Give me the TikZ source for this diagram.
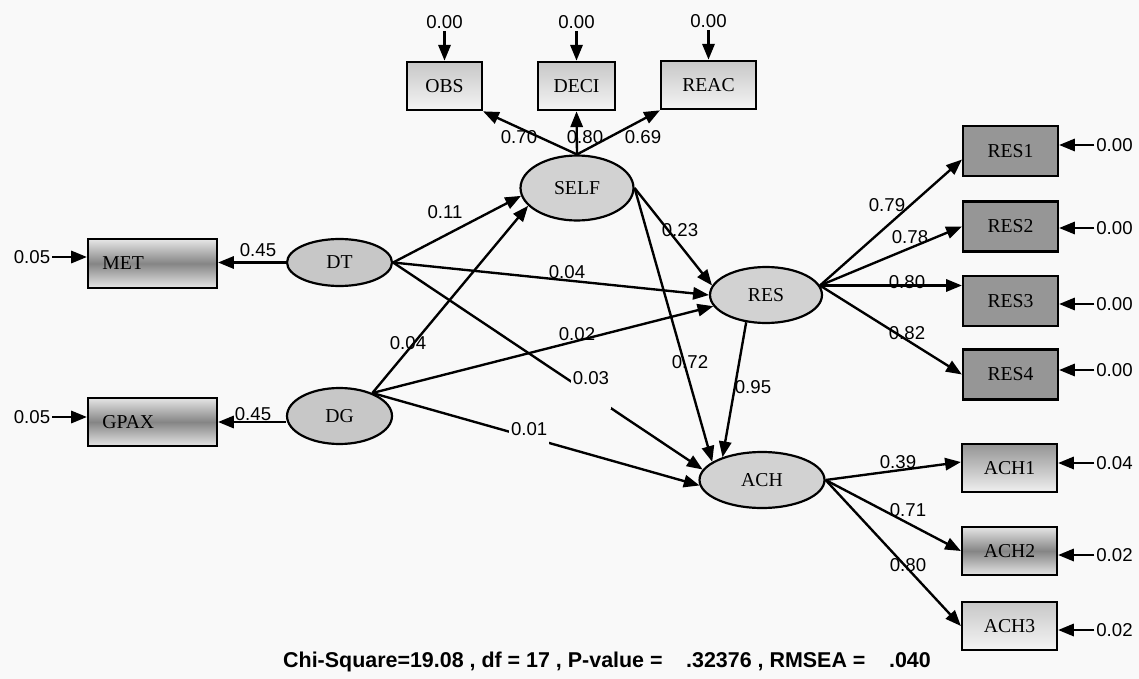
\documentclass[tikz,border=0pt]{standalone}
\usepackage{fontspec}
\setmainfont{Liberation Serif}
\setsansfont{Liberation Sans}
\usepackage{xcolor}
\usetikzlibrary{positioning,arrows.meta,shapes.geometric}
\definecolor{bgpaper}{RGB}{249,249,249}
\definecolor{latfill}{RGB}{210,210,210}
\definecolor{resfill}{RGB}{150,150,150}

\begin{document}
\begin{tikzpicture}[x=0.02cm, y=-0.02cm,
    every node/.style={font=\fontsize{11.2}{13}\selectfont},
    arr/.style={-{Triangle[length=9pt,width=7pt]}, line width=1.35pt},
    manifest/.style={draw, line width=1.25pt, minimum width=1.9cm, minimum height=0.97cm, inner sep=1pt},
    lightbox/.style={manifest, top color=black!22, bottom color=black!4},
    fadebox/.style={manifest, top color=black!42, bottom color=black!6},
    bandbox/.style={manifest, top color=black!10, bottom color=black!10, middle color=black!48},
    darkbox/.style={manifest, fill=resfill, minimum height=1cm},
    latent/.style={draw, ellipse, line width=1.25pt, fill=latfill, inner sep=0pt},
    coef/.style={font=\sffamily\fontsize{10.6}{12}\selectfont, inner sep=1pt},
    cutcoef/.style={coef, fill=bgpaper, anchor=mid west, text depth=12pt, inner ysep=1.8pt}
  ]
    \fill[bgpaper] (0,0) rectangle (1139,679);
    \useasboundingbox (0,0) rectangle (1139,679);

    % latent variables
    \node[latent, minimum width=2.26cm, minimum height=1.3cm] (SELF) at (577,188) {SELF};
    \node[latent, fill=black!22, minimum width=2.1cm, minimum height=0.94cm] (DT) at (339.5,262.5) {DT};
    \node[latent, fill=black!22, minimum width=2.1cm, minimum height=1.12cm] (DG) at (339.5,416) {DG};
    \node[latent, minimum width=2.24cm, minimum height=1.12cm] (RES) at (766,295) {RES};
    \node[latent, minimum width=2.5cm, minimum height=1.12cm] (ACH) at (762,480) {ACH};

    % indicators of SELF
    \node[lightbox, minimum width=1.5cm] (OBS) at (444.5,86) {OBS};
    \node[lightbox, minimum width=1.54cm] (DECI) at (576.5,86) {DECI};
    \node[lightbox] (REAC) at (708.5,85) {REAC};
    \node[coef, above=0.59cm of OBS] (e1) {0.00};
    \node[coef, above=0.59cm of DECI] (e2) {0.00};
    \node[coef, above=0.59cm of REAC] (e3) {0.00};
    \foreach \e/\b in {e1/OBS,e2/DECI,e3/REAC}
      \draw[arr] (\e) -- (\b);
    \draw[arr] (SELF.north) -- (OBS.south east);
    \draw[arr] (SELF.north) -- (DECI.south);
    \draw[arr] (SELF.north) -- (REAC.south west);

    % indicators of DT, DG
    \node[bandbox, minimum width=2.58cm, text width=57pt, align=left, inner xsep=8pt] (MET) at (152.5,263.5) {MET};
    \node[bandbox, minimum width=2.58cm, text width=57pt, align=left, inner xsep=8pt] (GPAX) at (152.5,422) {GPAX};
    \node[coef] (u1) at (32,257) {0.05};
    \node[coef] (u2) at (32,417) {0.05};
    \draw[arr] (u1) -- (u1 -| MET.west);
    \draw[arr] (u2) -- (u2 -| GPAX.west);
    \draw[arr] (DT.west) -- (DT.west -| MET.east);
    \draw[arr] (DG.west |- GPAX.east) -- (GPAX.east);

    % indicators of RES, ACH
    \foreach \i/\y in {1/151,2/226.5,3/301,4/374.5}
      \node[darkbox] (RES\i) at (1010.5,\y) {RES\i};
    \node[fadebox] (ACH1) at (1009.5,468) {ACH1};
    \node[bandbox] (ACH2) at (1009.5,551) {ACH2};
    \node[lightbox] (ACH3) at (1009.5,626) {ACH3};
    \foreach \i/\y in {1/145,2/228,3/304,4/370} {
      \node[coef] (r\i) at (1114.5,\y) {0.00};
      \draw[arr] (r\i) -- (r\i -| RES\i.east);
    }
    \foreach \i/\y/\v in {1/463/0.04,2/555/0.02,3/630/0.02} {
      \node[coef] (a\i) at (1114.5,\y) {\v};
      \draw[arr] (a\i) -- (a\i -| ACH\i.east);
    }
    \draw[arr] (RES.10) -- (RES1.190);
    \draw[arr] (RES.10) -- (RES2.west);
    \draw[arr] (RES.10) -- (RES.10 -| RES3.west);
    \draw[arr] (RES.10) -- (RES4.west);
    \draw[arr] (ACH.east) -- (ACH1.173);
    \draw[arr] (ACH.east) -- (ACH2.west);
    \draw[arr] (ACH.east) -- (ACH3.west);

    % structural paths
    \draw[arr] (DT.east) -- (SELF.188);
    \draw[arr] (DT.east) -- (RES.west);
    \draw[arr] (DG.35) -- (SELF.200);
    \draw[arr] (DG.35) -- (RES.192);
    \draw[arr] (SELF.east) -- (RES.170);
    \draw[arr] (SELF.east) -- (ACH.160);
    \draw[arr] (RES.234) -- (ACH.150);
    \draw[arr] (DT.east) -- node[cutcoef, pos=0.571] (c03) {0.03} (ACH.170);
    \draw[arr] (DG.35) -- node[cutcoef, pos=0.415] (c01) {0.01} (ACH.185);

    % coefficients
    \node[coef] (c70) at (519,137) {0.70};
    \node[coef] (c80s) at (585,137) {0.80};
    \node[coef] (c69) at (643,137) {0.69};
    \node[coef] (c45t) at (258,250) {0.45};
    \node[coef] (c45g) at (253,414) {0.45};
    \node[coef] (c11) at (445,212) {0.11};
    \node[coef] (c04t) at (567,272) {0.04};
    \node[coef] (c04g) at (408,343) {0.04};
    \node[coef] (c02) at (577,334) {0.02};
    \node[coef] (c23) at (680,230) {0.23};
    \node[coef] (c72) at (690,362) {0.72};
    \node[coef] (c95) at (753,387) {0.95};
    \node[coef] (c79) at (887,205) {0.79};
    \node[coef] (c78) at (910,237) {0.78};
    \node[coef] (c80r) at (907,282) {0.80};
    \node[coef] (c82) at (907,333) {0.82};
    \node[coef] (c39) at (898,462) {0.39};
    \node[coef] (c71) at (908,510) {0.71};
    \node[coef] (c80a) at (908,565) {0.80};

    % fit indices
    \node[font=\sffamily\bfseries\fontsize{12.2}{14}\selectfont] (fit) at (607,662)
      {Chi-Square=19.08 , df = 17 , P-value =\hspace{1.1em}.32376 , RMSEA =\hspace{1.1em}.040};
  \end{tikzpicture}
\end{document}
